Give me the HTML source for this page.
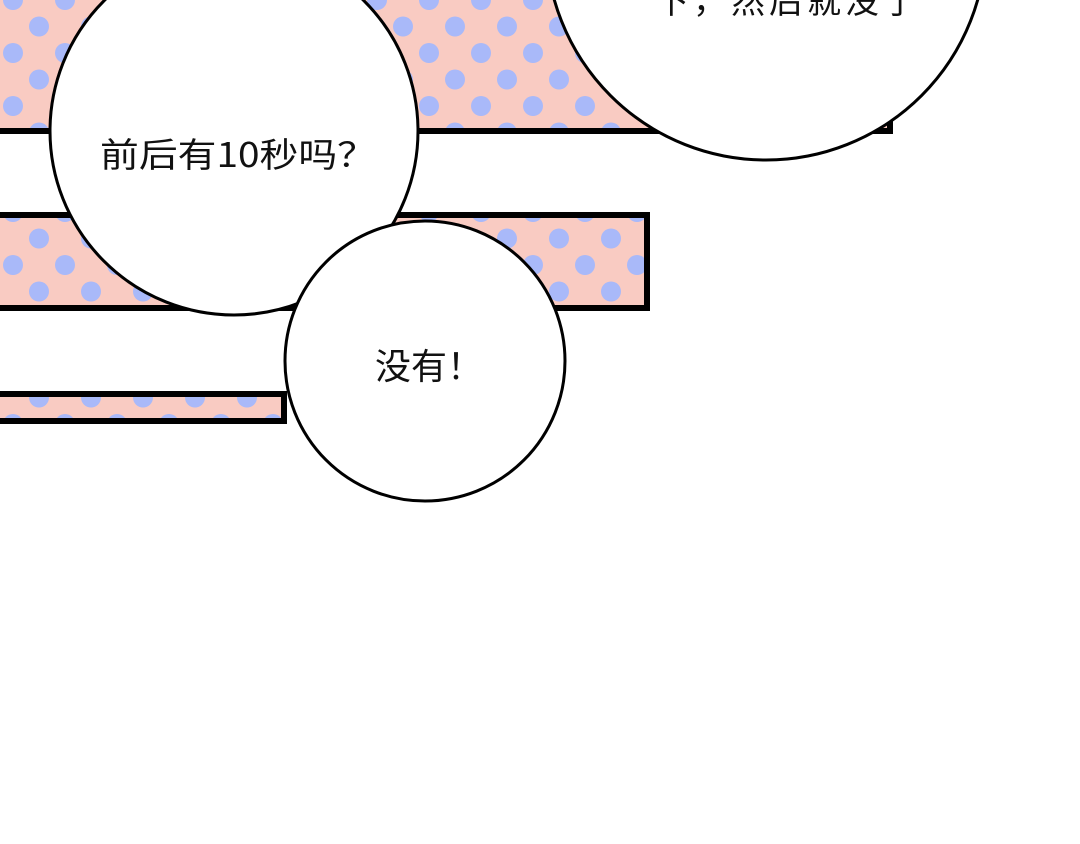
<!DOCTYPE html>
<html><head><meta charset="utf-8"><style>
html,body{margin:0;padding:0;background:#fff;}
svg{display:block;}
text{font-family:"Noto Sans CJK SC",sans-serif;fill:#111;}
</style></head><body>
<svg width="1080" height="844" viewBox="0 0 1080 844" xmlns="http://www.w3.org/2000/svg">
<defs>
<pattern id="dots" x="0" y="0" width="52" height="53" patternUnits="userSpaceOnUse">
<rect width="52" height="53" fill="#f9cbc2"/>
<circle cx="13" cy="0" r="10" fill="#a9b9f9"/>
<circle cx="13" cy="53" r="10" fill="#a9b9f9"/>
<circle cx="39" cy="26.5" r="10" fill="#a9b9f9"/>
</pattern>
</defs>
<rect width="1080" height="844" fill="#fff"/>
<rect x="-10" y="-10" width="900" height="141" fill="url(#dots)" stroke="#000" stroke-width="6"/>
<rect x="-10" y="215" width="657" height="93" fill="url(#dots)" stroke="#000" stroke-width="6"/>
<rect x="-10" y="394" width="294" height="27" fill="url(#dots)" stroke="#000" stroke-width="6"/>
<circle cx="766" cy="-60" r="220" fill="#fff" stroke="#000" stroke-width="3"/>
<text x="655" y="13" font-size="34" letter-spacing="4">下，然后就没了</text>
<circle cx="234" cy="131" r="184" fill="#fff" stroke="#000" stroke-width="3"/>
<text x="100" y="167" font-size="34" textLength="276" lengthAdjust="spacingAndGlyphs">前后有10秒吗？</text>
<circle cx="425" cy="361" r="140" fill="#fff" stroke="#000" stroke-width="3"/>
<text x="375" y="379" font-size="36" textLength="108" lengthAdjust="spacing">没有！</text>
</svg>
</body></html>
